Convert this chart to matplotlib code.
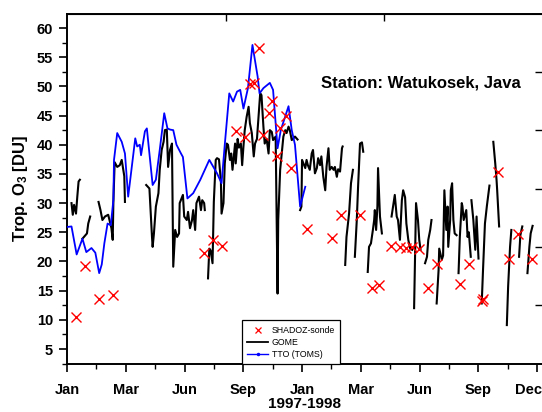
import numpy as np
import matplotlib
matplotlib.use('Agg')
import matplotlib.pyplot as plt
import matplotlib.transforms as mtransforms
from matplotlib.lines import Line2D
from matplotlib.ticker import FixedLocator, MultipleLocator

plt.rcParams['font.family'] = ['Liberation Sans', 'DejaVu Sans']
plt.rcParams['mathtext.default'] = 'regular'

N = np.nan

# x axis = days since 1 Jan 1997
sonde_day = [14, 28, 50, 71, 213, 226, 241, 262, 277, 284, 290, 298, 304, 313, 319, 326,
             331, 340, 348, 373, 411, 425, 455, 474, 485, 503, 517, 526, 535, 547,
             560, 574, 610, 624, 644, 646, 669, 687, 701, 722]
sonde_o3 = [10.5, 19.2, 13.6, 14.2, 21.5, 23.7, 22.6, 42.4, 41.3, 50.4, 50.5, 56.5, 41.7, 45.4, 47.5, 38.1,
            42.8, 45.0, 36.0, 25.5, 24.1, 28.0, 28.0, 15.5, 16.0, 22.6, 22.4, 22.3, 22.4, 22.2,
            15.5, 19.5, 16.1, 19.6, 13.2, 13.5, 35.4, 20.4, 24.7, 20.4]

# TTO from TOMS (1997 only)
tto_day = [0, 7, 15, 24, 30, 38, 44, 50, 54, 58, 63, 68, 72, 73, 78, 85, 90, 95, 106, 109,
           113, 115, 121, 124, 133, 138, 144, 151, 156, 160, 165, 170, 177, 180, 187, 196,
           207, 221, 233, 240, 245, 252, 258, 264, 269, 274, 281, 288, 296, 299, 305, 315,
           320, 327, 332, 344, 349, 354, 362, 370]
tto_o3 = [25.9, 26.0, 21.2, 23.9, 21.6, 22.3, 21.5, 18.0, 19.5, 23.1, 26.5, 26.2, 30.5, 37.4, 42.0, 40.5,
          38.5, 31.1, 41.1, 39.7, 40.0, 38.2, 42.3, 42.8, 33.1, 34.0, 39.1, 45.4, 42.8, 42.6,
          42.5, 40.0, 38.5, 37.9, 30.8, 31.7, 34.0, 37.4, 35.1, 33.4, 40.0, 48.8, 47.4, 49.1,
          49.4, 46.2, 49.7, 57.1, 51.7, 48.8, 49.7, 50.6, 49.4, 39.4, 42.5, 46.6, 42.5, 40.0,
          29.4, 32.8]

# GOME, NaN marks a data gap
gome_day = [7, 9, 11, 14, 16, 18, 20, N,
            24, 31, 33, 36, N,
            49, 52, 55, 59, 64, 69, 71, 72, 74, 78, 82, 85, 89, 90, N,
            123, 128, 130, 132, 133, 135, 138, 142, 144, 147, 150, 152, 155, 157, 160, 163, 165,
            168, 171, 174, 175, 180, 182, 186, 188, 191, 194, 196, 199, 201, 205, 208, 210, 213, 214, N,
            219, 221, 223, 226, 228, 231, 233, 236, 239, 240, 243, 245, 248, 250, 253, 255, 257,
            261, 262, 265, 267, 270, 272, 274, 276, 279, 282, 284, 287, 290, 292, 295, 297, 300,
            302, 305, 307, 310, 313, 315, 318, 320, 324, 327, 328, 331, 336, 339, 341, 344, 346,
            349, 354, 358, N,
            362, 364, 365, 370, 372, 374, 377, 380, 382, 385, 388, 390, 393, 395, 398, 401, 403,
            406, 408, 411, 414, 416, 419, 421, 424, 427, 428, N,
            432, 434, 438, 441, 444, N,
            447, 450, 452, 455, 458, 460, N,
            467, 469, 472, 475, 477, 478, 480, 482, 483, 486, 489, N,
            504, 507, 509, 512, 514, 517, 520, 522, 525, 527, 530, 533, 536, N,
            539, 542, 545, 547, 549, N,
            556, 559, 561, 564, 566, N,
            574, 577, 578, 582, 584, 586, 589, 591, 592, 595, 596, 598, 600, 602, 605, N,
            608, 610, 613, 614, 616, 620, 622, 624, 627, N,
            628, 631, 634, 636, 639, N,
            644, 646, 649, 652, 656, N,
            662, 665, 667, 668, 671, N,
            683, 685, 688, 690, N,
            702, 704, 707, N,
            715, 718, 720, 723]
gome_o3 = [30.0, 28.0, 29.7, 28.2, 31.1, 33.7, 34.0, N,
           23.9, 24.8, 26.5, 27.7, N,
           30.2, 28.8, 27.1, 27.7, 28.0, 25.7, 23.7, 30.0, 37.0, 36.2, 36.5, 37.4, 34.6, 30.2, N,
           33.1, 32.5, 28.2, 24.2, 22.5, 24.8, 29.4, 31.7, 35.7, 39.1, 40.5, 42.5, 42.6, 36.2, 39.1, 40.2, 19.1,
           25.4, 24.2, 24.8, 30.0, 31.4, 27.7, 27.1, 28.5, 25.7, 27.0, 28.8, 25.4, 30.0, 31.1, 28.8, 30.5, 30.0, 28.8, N,
           17.1, 22.2, 21.9, 19.7, 30.2, 37.4, 37.7, 37.5, 33.7, 28.2, 30.0, 36.8, 40.2, 40.0, 37.4, 38.5, 35.7,
           40.2, 36.8, 41.0, 39.5, 40.2, 36.5, 39.7, 42.5, 44.8, 46.5, 43.7, 42.0, 38.0, 40.2, 41.0, 44.2, 48.8,
           48.5, 43.1, 40.2, 41.0, 38.5, 42.5, 42.2, 40.8, 41.4, 14.5, 27.1, 35.7, 41.4, 42.5, 42.0, 43.1, 42.5,
           40.8, 41.4, 40.9, N,
           28.8, 29.4, 37.4, 36.0, 37.4, 36.5, 35.7, 38.5, 39.1, 35.1, 36.0, 37.7, 36.5, 38.0, 34.5, 32.2, 36.2,
           39.4, 35.7, 36.2, 35.7, 36.2, 34.5, 35.8, 35.4, 39.4, 39.7, N,
           19.4, 24.2, 28.2, 33.4, 35.7, N,
           20.8, 27.1, 32.8, 40.2, 40.4, 38.8, N,
           18.2, 22.5, 23.1, 25.4, 27.1, 28.8, 25.4, 29.4, 36.0, 27.7, 24.8, N,
           27.7, 30.0, 31.4, 27.7, 27.1, 23.7, 30.5, 32.2, 31.0, 26.5, 23.7, 22.2, 22.0, N,
           12.0, 30.0, 27.1, 23.7, 22.0, N,
           19.7, 20.8, 23.7, 25.4, 27.1, N,
           12.8, 18.5, 22.2, 20.3, 21.0, 32.2, 25.4, 29.4, 22.5, 27.1, 32.2, 33.4, 27.1, 24.8, 24.5, N,
           18.0, 24.2, 30.0, 29.5, 27.1, 28.8, 24.2, 25.0, 20.8, N,
           30.5, 27.1, 22.0, 27.7, 20.5, N,
           12.8, 18.5, 26.5, 29.5, 33.0, N,
           40.5, 36.8, 34.0, 32.2, 26.0, N,
           9.1, 15.7, 22.5, 25.4, N,
           20.8, 24.5, 26.0, N,
           18.0, 22.5, 24.8, 26.1]

month_labels = ['Jan', 'Mar', 'Jun', 'Sep', 'Jan', 'Mar', 'Jun', 'Sep', 'Dec']
quarter = 365.0 / 4

fig = plt.figure(figsize=(5.42, 4.12), dpi=100)
ax = fig.add_axes([0.1236, 0.1165, 0.8764, 0.8495])

ax.plot(gome_day, gome_o3, color='black', lw=1.5, zorder=2)
ax.plot(tto_day, tto_o3, color='#0000ff', lw=1.3, zorder=3)
ax.plot(sonde_day, sonde_o3, ls='none', marker='x', ms=7, mew=1.0, color='red', zorder=4)

ax.set_xlim(0, 737.6)
ax.set_ylim(2.43, 62.4)

major_x = np.arange(len(month_labels)) * quarter
ax.xaxis.set_major_locator(FixedLocator(major_x))
ax.xaxis.set_minor_locator(FixedLocator(major_x + quarter / 2))
ax.set_xticklabels(month_labels)
ax.yaxis.set_major_locator(MultipleLocator(5))
ax.yaxis.set_minor_locator(MultipleLocator(2.5))

ax.spines['right'].set_visible(False)
for s in ('left', 'bottom', 'top'):
    ax.spines[s].set_linewidth(1.4)
ax.tick_params(which='major', direction='out', length=6, width=1.2, labelsize=10.5)
ax.tick_params(which='minor', direction='out', length=3.5, width=1.0)
ax.tick_params(axis='x', which='major', pad=8)
ax.tick_params(axis='y', which='major', pad=4)
for lbl in ax.get_xticklabels() + ax.get_yticklabels():
    lbl.set_fontweight('bold')
# keep the last month label inside the figure
last = ax.get_xticklabels()[-1]
last.set_transform(last.get_transform() +
                   mtransforms.ScaledTranslation(-6 / 72, 0, fig.dpi_scale_trans))

ax.set_xlabel('1997-1998', fontsize=11, fontweight='bold', labelpad=0)
ax.set_ylabel('Trop. O$_3$ [DU]', fontsize=12, fontweight='bold', labelpad=5)

ax.text(0.745, 0.803, 'Station: Watukosek, Java', transform=ax.transAxes,
        ha='center', va='center', fontsize=12, fontweight='bold')

# stray ticks along top and right edge
top = ax.secondary_xaxis('top')
top.set_xticks([247, 492])
top.set_xticklabels([])
top.tick_params(direction='in', length=5, width=1.0)
right = ax.secondary_yaxis(0.985)
right.set_yticks([12.5, 22.5, 32.5, 42.5, 52.5])
right.set_yticklabels([])
right.tick_params(direction='out', length=6, width=1.0)
right.spines['right'].set_visible(False)
right.spines['left'].set_visible(False)

handles = [Line2D([], [], ls='none', marker='x', color='red', ms=5, mew=0.9),
           Line2D([], [], color='black', lw=1.3),
           Line2D([], [], color='#0000ff', lw=1.0, marker='.', ms=3)]
leg = ax.legend(handles, ['SHADOZ-sonde', 'GOME', 'TTO (TOMS)'], loc='lower left',
                bbox_to_anchor=(0.368, 0.0), prop={'size': 6.3, 'weight': 'normal'},
                frameon=True, fancybox=False, edgecolor='black', framealpha=1,
                borderaxespad=0, handlelength=2.4, labelspacing=0.35, borderpad=0.6,
                handletextpad=0.4)
leg.get_frame().set_linewidth(0.9)

fig.savefig('out.png', dpi=100)
